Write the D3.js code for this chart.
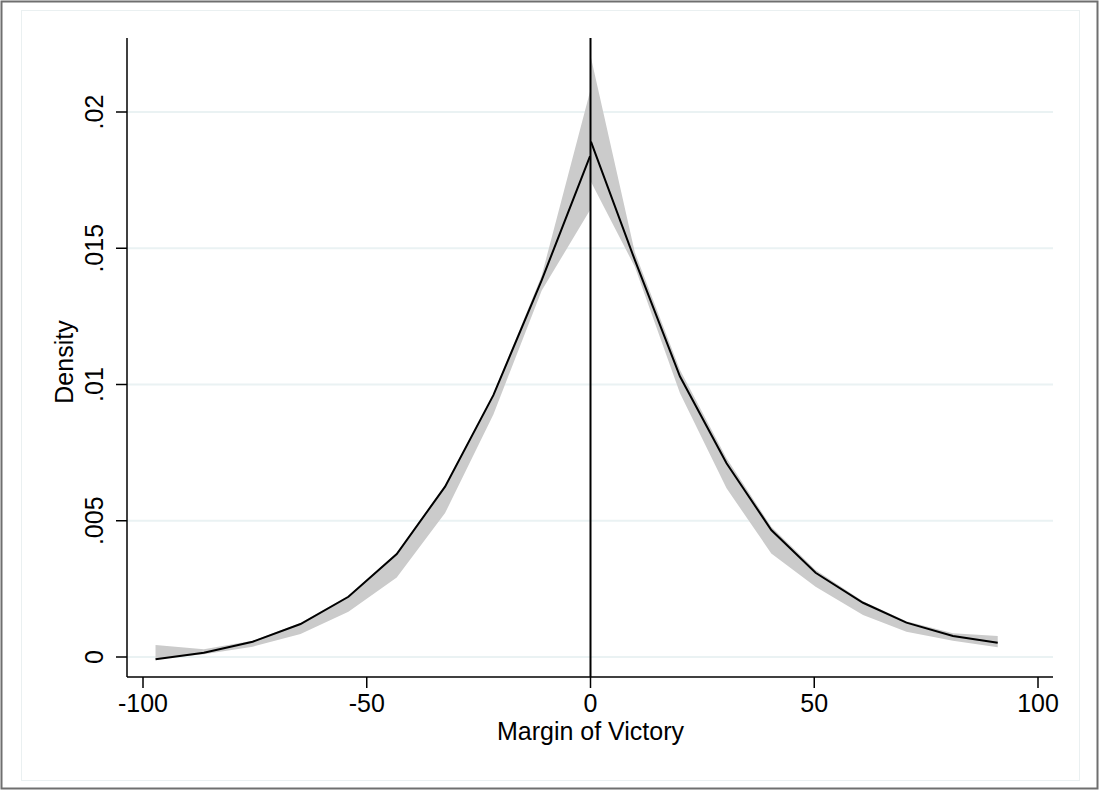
<!DOCTYPE html>
<html>
<head>
<meta charset="utf-8">
<script src="https://cdn.jsdelivr.net/npm/d3@7"></script>
<style>
  body { margin: 0; background: #fff; }
  svg text { font-family: "Liberation Sans", Arial, Helvetica, sans-serif; fill: #000; }
</style>
</head>
<body>
<div id="chart"></div>
<script>
// left of the cutoff (margin < 0)
const leftX     = [-97.2, -86.4, -75.5, -64.8, -54.1, -43.3, -32.5, -21.7, -10.9, -0.1];
const leftFit   = [-0.00008, 0.00016, 0.00056, 0.00121, 0.00221, 0.00378, 0.00625, 0.00961, 0.01383, 0.01838];
const leftHi    = [0.00044, 0.00028, 0.00060, 0.00125, 0.00225, 0.00382, 0.00630, 0.00965, 0.01400, 0.02075];
const leftLo    = [-0.00007, 0.00010, 0.00038, 0.00084, 0.00166, 0.00292, 0.00528, 0.00890, 0.01345, 0.01640];

// right of the cutoff (margin >= 0)
const rightX    = [0.1, 9.9, 20.0, 30.4, 40.4, 50.3, 60.9, 70.6, 81.0, 91.0];
const rightFit  = [0.01891, 0.01457, 0.01029, 0.00711, 0.00466, 0.00309, 0.00199, 0.00126, 0.00077, 0.00052];
const rightHi   = [0.02200, 0.01485, 0.01053, 0.00729, 0.00478, 0.00319, 0.00205, 0.00131, 0.00087, 0.00077];
const rightLo   = [0.01744, 0.01432, 0.00968, 0.00619, 0.00380, 0.00258, 0.00154, 0.00093, 0.00060, 0.00036];

const xTicks = [-100, -50, 0, 50, 100];
const yTicks = [0, 0.005, 0.01, 0.015, 0.02];
const yTickLabels = ["0", ".005", ".01", ".015", ".02"];

const width = 1099, height = 790;
const plot = { left: 127, right: 1053, top: 38, bottom: 677 };

const svg = d3.select('#chart').append('svg')
    .attr('width', width)
    .attr('height', height);

// outer frame + inner light frame
svg.append('rect')
    .attr('x', 1.5).attr('y', 1.5)
    .attr('width', width - 3).attr('height', height - 3)
    .attr('fill', '#fff').attr('stroke', '#6f6f6f').attr('stroke-width', 2);
svg.append('rect')
    .attr('x', 21.5).attr('y', 10.5)
    .attr('width', 1058).attr('height', 770)
    .attr('fill', 'none').attr('stroke', '#eaf0f1').attr('stroke-width', 1);

const xScale = d3.scaleLinear().domain([-100, 100]).range([143, 1038]);
const yScale = d3.scaleLinear().domain([0, 0.02]).range([657, 112]);

// gridlines
svg.append('g')
    .selectAll('line')
    .data(yTicks)
    .join('line')
    .attr('x1', plot.left).attr('x2', plot.right)
    .attr('y1', d => yScale(d)).attr('y2', d => yScale(d))
    .attr('stroke', '#eaf2f3').attr('stroke-width', 2);

function band(xs, hi, lo) {
    const pts = xs.map((x, i) => ({ x, hi: hi[i], lo: lo[i] }));
    return d3.area()
        .x(d => xScale(d.x))
        .y0(d => yScale(d.lo))
        .y1(d => yScale(d.hi))(pts);
}
function fitLine(xs, ys) {
    return d3.line()
        .x((d, i) => xScale(xs[i]))
        .y(d => yScale(d))(ys);
}

svg.append('path').attr('d', band(leftX, leftHi, leftLo)).attr('fill', '#cbcbcb');
svg.append('path').attr('d', band(rightX, rightHi, rightLo)).attr('fill', '#cbcbcb');

// cutoff line
svg.append('line')
    .attr('x1', xScale(0)).attr('x2', xScale(0))
    .attr('y1', plot.top).attr('y2', plot.bottom)
    .attr('stroke', '#000').attr('stroke-width', 2);

svg.append('path').attr('d', fitLine(leftX, leftFit))
    .attr('fill', 'none').attr('stroke', '#000').attr('stroke-width', 2);
svg.append('path').attr('d', fitLine(rightX, rightFit))
    .attr('fill', 'none').attr('stroke', '#000').attr('stroke-width', 2);

// axes
const xAxis = svg.append('g');
xAxis.append('line')
    .attr('x1', plot.left).attr('x2', plot.right)
    .attr('y1', plot.bottom).attr('y2', plot.bottom)
    .attr('stroke', '#000').attr('stroke-width', 1.5);
xAxis.selectAll('line.tick')
    .data(xTicks)
    .join('line')
    .attr('class', 'tick')
    .attr('x1', d => xScale(d)).attr('x2', d => xScale(d))
    .attr('y1', plot.bottom).attr('y2', plot.bottom + 11)
    .attr('stroke', '#000').attr('stroke-width', 1.5);
xAxis.selectAll('text')
    .data(xTicks)
    .join('text')
    .attr('x', d => xScale(d))
    .attr('y', 712)
    .attr('text-anchor', 'middle')
    .attr('font-size', 25)
    .text(d => d);

const yAxis = svg.append('g');
yAxis.append('line')
    .attr('x1', plot.left).attr('x2', plot.left)
    .attr('y1', plot.top).attr('y2', plot.bottom)
    .attr('stroke', '#000').attr('stroke-width', 1.5);
yAxis.selectAll('line.tick')
    .data(yTicks)
    .join('line')
    .attr('class', 'tick')
    .attr('x1', plot.left - 11).attr('x2', plot.left)
    .attr('y1', d => yScale(d)).attr('y2', d => yScale(d))
    .attr('stroke', '#000').attr('stroke-width', 1.5);
yAxis.selectAll('text')
    .data(yTicks)
    .join('text')
    .attr('transform', d => `translate(103, ${yScale(d)}) rotate(-90)`)
    .attr('text-anchor', 'middle')
    .attr('font-size', 25)
    .text((d, i) => yTickLabels[i]);

// titles
svg.append('text')
    .attr('x', xScale(0)).attr('y', 740)
    .attr('text-anchor', 'middle')
    .attr('font-size', 25)
    .text('Margin of Victory');
svg.append('text')
    .attr('transform', `translate(73, 362) rotate(-90)`)
    .attr('text-anchor', 'middle')
    .attr('font-size', 25)
    .text('Density');
</script>
</body>
</html>
